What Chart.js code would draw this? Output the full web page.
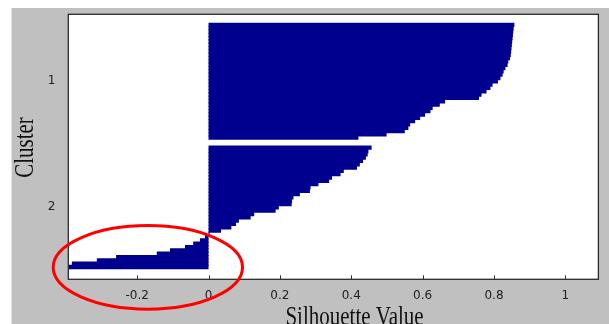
<!DOCTYPE html>
<html>
<head>
<meta charset="utf-8">
<script src="https://cdn.jsdelivr.net/npm/chart.js@4.4.1/dist/chart.umd.min.js"></script>
<style>
  html, body { margin: 0; padding: 0; background: #ffffff; overflow: hidden; }
  #wrap { position: relative; width: 609px; height: 324px; }
</style>
</head>
<body>
<div id="wrap"><canvas id="c" width="609" height="324"></canvas></div>
<script>
// Silhouette value of every point, sorted from largest to smallest inside each cluster
const cluster1 = [0.857, 0.855, 0.854, 0.853, 0.852, 0.851, 0.850, 0.849, 0.848, 0.847,
                  0.845, 0.840, 0.838, 0.832, 0.827, 0.824, 0.818, 0.811, 0.796, 0.790,
                  0.779, 0.765, 0.758, 0.663, 0.648, 0.628, 0.622, 0.607, 0.593, 0.579,
                  0.565, 0.560, 0.550, 0.499, 0.420];
const cluster2 = [0.457, 0.448, 0.446, 0.441, 0.433, 0.424, 0.416, 0.379, 0.370, 0.346,
                  0.338, 0.308, 0.286, 0.284, 0.256, 0.238, 0.234, 0.233, 0.197, 0.188,
                  0.128, 0.118, 0.085, 0.077, 0.064, 0.035, 0.003, -0.010, -0.024, -0.043,
                  -0.066, -0.108, -0.145, -0.259, -0.313, -0.383, -0.393];
const clusterNames = ['1', '2'];
const xTickValues = [-0.2, 0, 0.2, 0.4, 0.6, 0.8, 1];
const xTickLabels = ['-0.2', '0', '0.2', '0.4', '0.6', '0.8', '1'];
const xTitle = 'Silhouette Value';
const yTitle = 'Cluster';
const gapRows = 2;            // empty rows between two clusters
// Highlight ring around the negative silhouettes (data units: x value, row index)
const ring = { cx: -0.170, cy: 74.1, rx: 0.2653, ry: 12.6 };

// One row per point, clusters stacked from the top with a small gap
const clusters = [cluster1, cluster2];
const points = [];
const centers = [];
let row = 1;
clusters.forEach(vals => {
  const start = row;
  vals.forEach(v => { points.push({ x: v, y: row }); row++; });
  centers.push((start + row - 1) / 2);
  row += gapRows;
});

const tickFont = { family: 'DejaVu Sans', size: 12 };

// keep the axes from adding label overhang to the layout
const noOverhang = s => { s.paddingTop = 0; s.paddingBottom = 0; s.paddingLeft = 0; s.paddingRight = 0; };

const frame = {
  id: 'frame',
  beforeDraw(chart) {
    const { ctx, chartArea: a, width, height } = chart;
    ctx.save();
    ctx.fillStyle = '#ffffff';
    ctx.fillRect(0, 0, width, height);
    ctx.fillStyle = '#c0c0c0';
    ctx.fillRect(11.6, 8, width - 11.6, height - 8);
    ctx.fillStyle = '#ffffff';
    ctx.fillRect(a.left, a.top, a.right - a.left, a.bottom - a.top);
    ctx.restore();
  },
  afterDraw(chart) {
    const { ctx, chartArea: a, scales } = chart;
    const xs = scales.x, ys = scales.y;
    ctx.save();
    // axes box
    ctx.strokeStyle = '#2a2a2a';
    ctx.lineWidth = 1.3;
    ctx.strokeRect(a.left, a.top, a.right - a.left, a.bottom - a.top);
    // inward tick marks on the value axis
    ctx.lineWidth = 1;
    ctx.strokeStyle = '#333333';
    ctx.beginPath();
    xTickValues.forEach(v => {
      const px = Math.round(xs.getPixelForValue(v)) + 0.5;
      ctx.moveTo(px, a.bottom);
      ctx.lineTo(px, a.bottom - 4);
    });
    ctx.stroke();
    // axis titles (serif, slightly tall)
    ctx.fillStyle = '#111111';
    ctx.font = '21px "Liberation Serif"';
    ctx.textAlign = 'center';
    ctx.textBaseline = 'alphabetic';
    ctx.save();
    ctx.translate(354.5, 324.6);
    ctx.scale(1, 1.25);
    ctx.fillText(xTitle, 0, 0);
    ctx.restore();
    ctx.save();
    ctx.translate(33.3, 147.5);
    ctx.rotate(-Math.PI / 2);
    ctx.scale(1, 1.25);
    ctx.fillText(yTitle, 0, 0);
    ctx.restore();
    // red ring
    const cx = xs.getPixelForValue(ring.cx);
    const cy = ys.getPixelForValue(ring.cy);
    const rx = Math.abs(xs.getPixelForValue(ring.cx + ring.rx) - cx);
    const ry = Math.abs(ys.getPixelForValue(ring.cy + ring.ry) - cy);
    ctx.strokeStyle = '#ff0000';
    ctx.lineWidth = 3;
    ctx.beginPath();
    ctx.ellipse(cx, cy, rx, ry, 0, 0, Math.PI * 2);
    ctx.stroke();
    ctx.restore();
  }
};

new Chart(document.getElementById('c'), {
  type: 'bar',
  data: {
    datasets: [{
      data: points,
      backgroundColor: '#00008f',
      borderWidth: 0,
      barPercentage: 1.32,
      categoryPercentage: 1
    }]
  },
  options: {
    indexAxis: 'y',
    responsive: false,
    animation: false,
    devicePixelRatio: 1,
    layout: { padding: { left: 0, top: 14.3, right: 10.6, bottom: 0 } },
    plugins: { legend: { display: false }, tooltip: { enabled: false } },
    scales: {
      x: {
        type: 'linear',
        offset: false,
        min: -0.393,
        max: 1.0925,
        afterBuildTicks: s => { s.ticks = xTickValues.map(v => ({ value: v })); },
        afterFit: s => { s.height = 44.7; noOverhang(s); },
        ticks: {
          font: tickFont,
          color: '#222222',
          padding: 9,
          maxRotation: 0,
          autoSkip: false,
          callback: v => xTickLabels[xTickValues.indexOf(v)]
        },
        grid: { display: false, drawTicks: false },
        border: { display: false }
      },
      y: {
        type: 'linear',
        offset: false,
        reverse: true,
        min: -2.2,
        max: 77.7,
        afterBuildTicks: s => { s.ticks = centers.map(v => ({ value: v })); },
        afterFit: s => { s.width = 68.3; noOverhang(s); },
        ticks: {
          font: tickFont,
          color: '#222222',
          padding: 13,
          autoSkip: false,
          callback: v => clusterNames[centers.indexOf(v)]
        },
        grid: { display: false, drawTicks: false },
        border: { display: false }
      }
    }
  },
  plugins: [frame]
});
</script>
</body>
</html>
